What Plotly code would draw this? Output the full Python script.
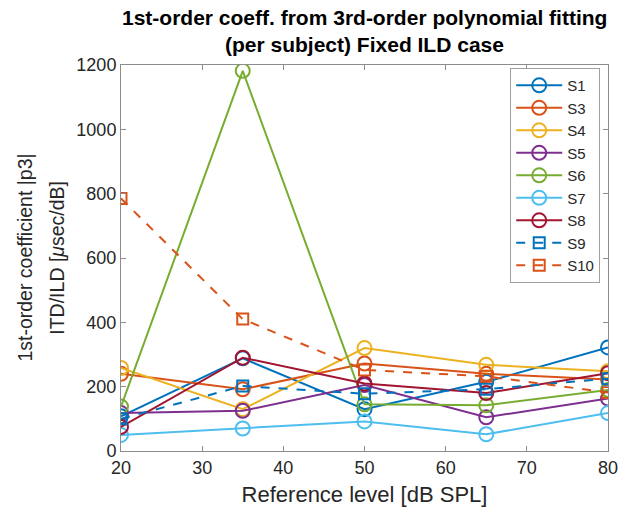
import plotly.graph_objects as go

# Reference levels (dB SPL)
levels = [20, 35, 50, 65, 80]

# 1st-order coefficient |p3| per subject (usec/dB)
s1 = [108, 288, 130, 215, 322]
s3 = [240, 192, 272, 240, 222]
s4 = [258, 130, 320, 268, 248]
s5 = [118, 125, 205, 105, 163]
s6 = [138, 1182, 145, 142, 190]
s7 = [50, 70, 92, 52, 118]
s8 = [75, 290, 210, 180, 242]
s9 = [100, 202, 178, 192, 225]
s10 = [785, 410, 252, 232, 182]

subjects = ["S1", "S3", "S4", "S5", "S6", "S7", "S8", "S9", "S10"]
values = [s1, s3, s4, s5, s6, s7, s8, s9, s10]
colors = ["#0072BD", "#D95319", "#EDB120", "#7E2F8E", "#77AC30",
          "#4DBEEE", "#A2142F", "#0072BD", "#D95319"]
dashed = {"S9", "S10"}

x_ticks = [20, 30, 40, 50, 60, 70, 80]
y_ticks = [0, 200, 400, 600, 800, 1000, 1200]

title_lines = ["1st-order coeff. from 3rd-order polynomial fitting",
               "(per subject) Fixed ILD case"]

FONT = "Liberation Sans, Arial, sans-serif"
TEXT = "#262626"
AXIS = "#8c8c8c"

fig = go.Figure()
for name, ys, col in zip(subjects, values, colors):
    is_dash = name in dashed
    fig.add_trace(go.Scatter(
        x=levels, y=ys, name=name, mode="lines+markers",
        line=dict(color=col, width=2, dash="dash" if is_dash else "solid"),
        marker=dict(symbol="square-open" if is_dash else "circle-open",
                    size=11 if is_dash else 14, color=col,
                    line=dict(width=2, color=col)),
    ))

axis_common = dict(
    showgrid=False, zeroline=False, showline=True, linecolor=AXIS, linewidth=1,
    mirror="ticks", ticks="inside", ticklen=5, tickcolor=AXIS,
    tickfont=dict(family=FONT, size=18, color=TEXT),
)

annotations = [
    dict(text="<b>" + title_lines[0] + "</b>", xref="paper", yref="paper",
         x=0.5, y=1.122, xanchor="center", yanchor="middle", showarrow=False,
         font=dict(family=FONT, size=21, color="#000000")),
    dict(text="<b>" + title_lines[1] + "</b>", xref="paper", yref="paper",
         x=0.5, y=1.052, xanchor="center", yanchor="middle", showarrow=False,
         font=dict(family=FONT, size=21, color="#000000")),
    dict(text="1st-order coefficient |p3|", textangle=-90,
         xref="paper", yref="paper", x=-0.198, y=0.5,
         xanchor="center", yanchor="middle", showarrow=False,
         font=dict(family=FONT, size=19.5, color=TEXT)),
    dict(text="ITD/ILD [<i>μ</i>sec/dB]", textangle=-90,
         xref="paper", yref="paper", x=-0.132, y=0.5,
         xanchor="center", yanchor="middle", showarrow=False,
         font=dict(family=FONT, size=19.5, color=TEXT)),
]

fig.update_layout(
    width=629, height=515,
    margin=dict(l=121, r=11, t=65, b=64),
    paper_bgcolor="white", plot_bgcolor="white",
    font=dict(family=FONT, color=TEXT),
    xaxis=dict(range=[20, 80], tickvals=x_ticks,
               title=dict(text="Reference level [dB SPL]", standoff=10,
                          font=dict(family=FONT, size=22, color=TEXT)),
               **axis_common),
    yaxis=dict(range=[0, 1200], tickvals=y_ticks, **axis_common),
    legend=dict(
        x=0.984, y=0.992, xanchor="right", yanchor="top",
        bgcolor="white", bordercolor="#a0a0a0", borderwidth=1,
        font=dict(family=FONT, size=15, color=TEXT),
        itemwidth=46, tracegroupgap=0,
    ),
    showlegend=True,
    annotations=annotations,
)

fig.write_html("out.html")
